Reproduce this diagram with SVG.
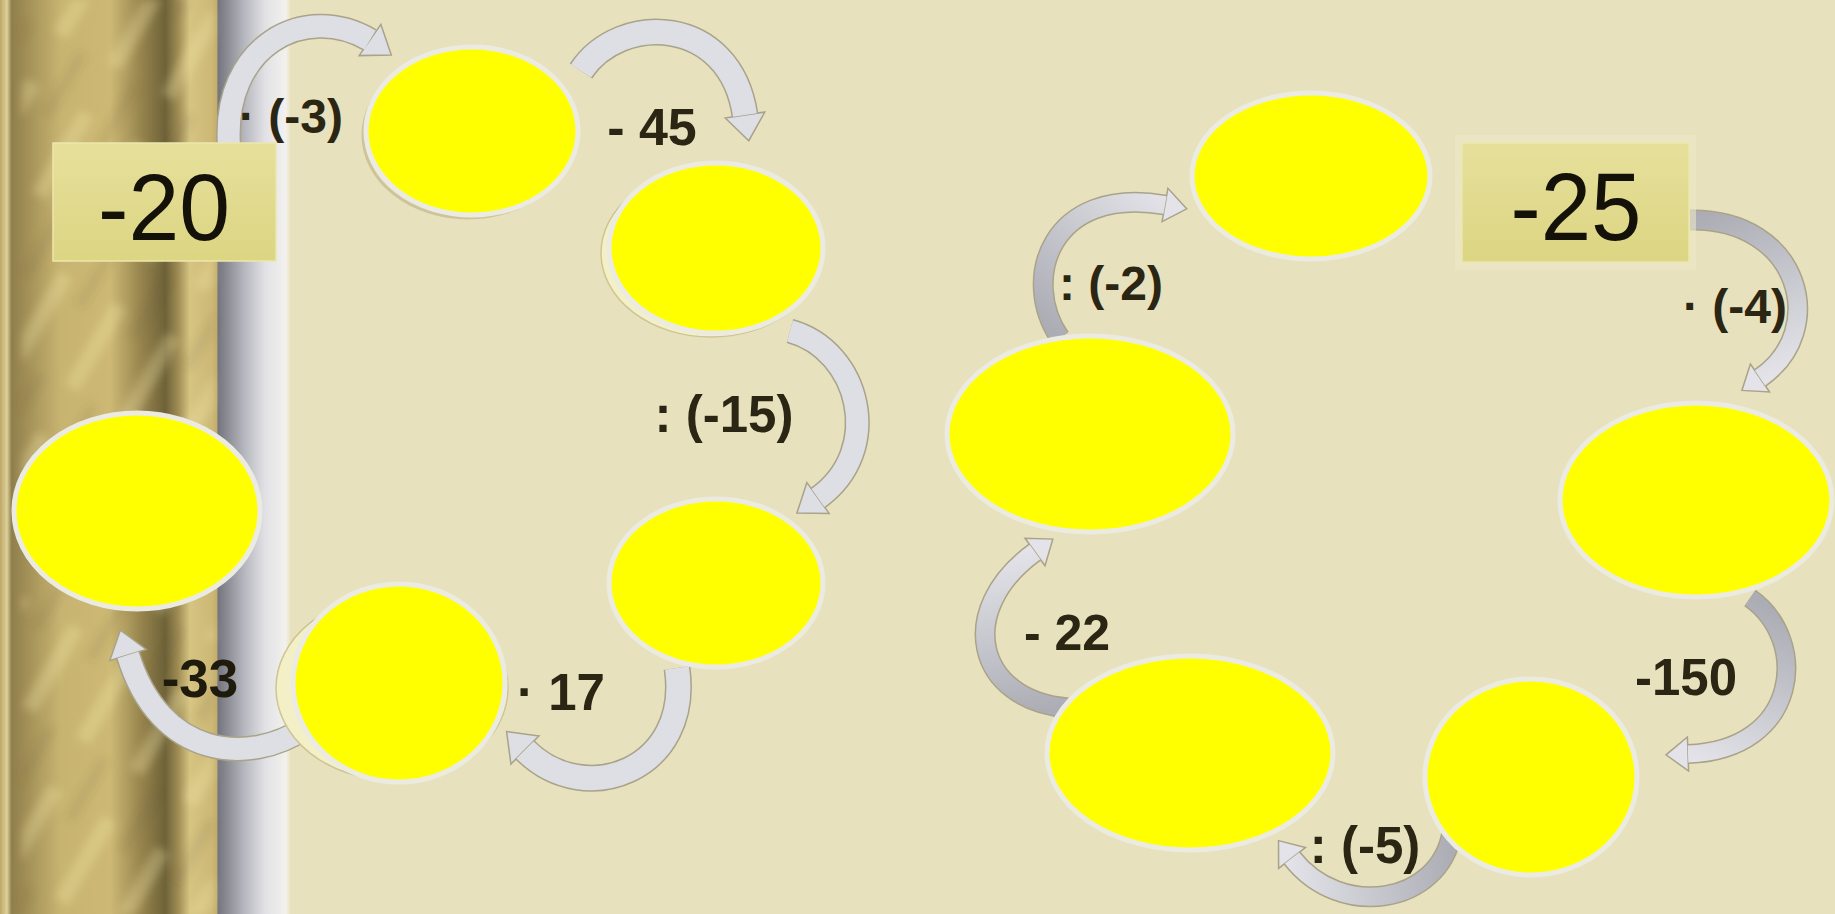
<svg xmlns="http://www.w3.org/2000/svg" width="1835" height="914" viewBox="0 0 1835 914">
<defs>
<style>
.lbl{font-family:"Liberation Sans",Arial,sans-serif;font-weight:bold;fill:#2a2613;text-anchor:middle}
.big{font-family:"Liberation Sans",Arial,sans-serif;fill:#141208;text-anchor:middle}
.node{fill:#ffff00;stroke:#ecebe2;stroke-width:5}
.ghost{fill:#f3efc6;stroke:#cfc592;stroke-width:1.5}
.shade{fill:none;stroke:#cdc49a;stroke-width:3}
.ao{fill:none;stroke:#a8a389}
.af{fill:none}
.ah{stroke:#a8a389;stroke-width:1.5;stroke-linejoin:miter}
.lf{stroke:#dedee5}
.box{stroke:#ebe7ad;stroke-width:1.5}
</style>
<linearGradient id="pillar" gradientUnits="userSpaceOnUse" x1="0" y1="0" x2="290" y2="0">
<stop offset="0" stop-color="#bfa866"/>
<stop offset="0.024" stop-color="#ddd09a"/>
<stop offset="0.04" stop-color="#8f7f4c"/>
<stop offset="0.11" stop-color="#a8955a"/>
<stop offset="0.21" stop-color="#c8b471"/>
<stop offset="0.38" stop-color="#cdb974"/>
<stop offset="0.48" stop-color="#9a874f"/>
<stop offset="0.57" stop-color="#6e6238"/>
<stop offset="0.615" stop-color="#a08d55"/>
<stop offset="0.655" stop-color="#d6c482"/>
<stop offset="0.73" stop-color="#cdb876"/>
<stop offset="0.747" stop-color="#c4ae6c"/>
<stop offset="0.752" stop-color="#74757e"/>
<stop offset="0.845" stop-color="#b8b8c0"/>
<stop offset="0.915" stop-color="#e2e2e6"/>
<stop offset="0.985" stop-color="#f2f1ee"/>
<stop offset="1" stop-color="#ebe5c6"/>
</linearGradient>
<pattern id="streak" patternUnits="userSpaceOnUse" width="150" height="62" patternTransform="rotate(-60)">
<rect x="0" y="0" width="95" height="16" fill="#f3e6a8" opacity="0.32"/>
<rect x="75" y="31" width="70" height="10" fill="#5a4e2a" opacity="0.12"/>
</pattern>
<filter id="soft" x="-5%" y="-5%" width="110%" height="110%"><feGaussianBlur stdDeviation="4"/></filter>
<linearGradient id="boxg" x1="0" y1="0" x2="0" y2="1">
<stop offset="0" stop-color="#e6e09c"/>
<stop offset="1" stop-color="#dcd582"/>
</linearGradient>
<linearGradient id="gB1" gradientUnits="userSpaceOnUse" x1="1690" y1="220" x2="1750" y2="385"><stop offset="0" stop-color="#acacb5"/><stop offset="1" stop-color="#e3e3e9"/></linearGradient>
<linearGradient id="gB2" gradientUnits="userSpaceOnUse" x1="1750" y1="598" x2="1680" y2="754"><stop offset="0" stop-color="#acacb5"/><stop offset="1" stop-color="#e3e3e9"/></linearGradient>
<linearGradient id="gB3" gradientUnits="userSpaceOnUse" x1="1452" y1="832" x2="1285" y2="850"><stop offset="0" stop-color="#acacb5"/><stop offset="1" stop-color="#e3e3e9"/></linearGradient>
<linearGradient id="gB4" gradientUnits="userSpaceOnUse" x1="1068" y1="708" x2="1040" y2="548"><stop offset="0" stop-color="#acacb5"/><stop offset="1" stop-color="#e3e3e9"/></linearGradient>
<linearGradient id="gB5" gradientUnits="userSpaceOnUse" x1="1060" y1="338" x2="1175" y2="205"><stop offset="0" stop-color="#acacb5"/><stop offset="1" stop-color="#e3e3e9"/></linearGradient>
</defs>

<g id="background">
<rect x="0" y="0" width="1835" height="914" fill="#e8e1bd"/>
<rect x="0" y="0" width="290" height="914" fill="url(#pillar)"/>
<rect x="22" y="0" width="192" height="914" fill="url(#streak)" filter="url(#soft)"/>
</g>

<g id="connectors">
<g id="a1">
<path class="ao" d="M229 146 C222 45 305 2 370 40" stroke-width="25"/>
<polygon class="ah" fill="#dedee5" points="380.9,24.4 391.3,54.9 359.1,55.6"/>
<path class="af lf" d="M229 146 C222 45 305 2 370 40" stroke-width="22"/>
</g>
<g id="a2">
<path class="ao" d="M581 71 C620 12 730 15 745 115" stroke-width="27"/>
<polygon class="ah" fill="#dedee5" points="725.2,118 748.8,140.7 764.8,112"/>
<path class="af lf" d="M581 71 C620 12 730 15 745 115" stroke-width="24"/>
</g>
<g id="a3">
<path class="ao" d="M790 331 C860 350 885 450 818 498" stroke-width="25"/>
<polygon class="ah" fill="#dedee5" points="806.9,482.6 796.9,513.1 829.1,513.4"/>
<path class="af lf" d="M790 331 C860 350 885 450 818 498" stroke-width="22"/>
</g>
<g id="a4">
<path class="ao" d="M677 668 C692 770 585 810 525 750" stroke-width="27"/>
<polygon class="ah" fill="#dedee5" points="539.1,735.9 506.6,731.6 510.9,764.1"/>
<path class="af lf" d="M677 668 C692 770 585 810 525 750" stroke-width="24"/>
</g>
<g id="a5">
<path class="ao" d="M305 728 C250 765 160 760 128 655" stroke-width="25"/>
<polygon class="ah" fill="#dedee5" points="146.2,649.5 120.4,630.1 109.8,660.5"/>
<path class="af lf" d="M305 728 C250 765 160 760 128 655" stroke-width="22"/>
</g>
<g id="b1">
<path class="ao" d="M1690 220 C1800 218 1830 330 1760 378" stroke-width="21"/>
<polygon class="ah" fill="#e3e3e9" points="1750.4,364 1741.9,390.4 1769.6,392"/>
<path class="af" d="M1690 220 C1800 218 1830 330 1760 378" stroke="url(#gB1)" stroke-width="18"/>
</g>
<g id="b2">
<path class="ao" d="M1750 598 C1810 640 1800 750 1688 754" stroke-width="20"/>
<polygon class="ah" fill="#e3e3e9" points="1687.4,737 1666,754.8 1688.6,771"/>
<path class="af" d="M1750 598 C1810 640 1800 750 1688 754" stroke="url(#gB2)" stroke-width="17"/>
</g>
<g id="b3">
<path class="ao" d="M1452 832 C1440 905 1340 920 1292 858" stroke-width="21"/>
<polygon class="ah" fill="#e3e3e9" points="1305.4,847.6 1278.5,840.6 1278.6,868.4"/>
<path class="af" d="M1452 832 C1440 905 1340 920 1292 858" stroke="url(#gB3)" stroke-width="18"/>
</g>
<g id="b4">
<path class="ao" d="M1068 708 C975 700 955 610 1035 552" stroke-width="21"/>
<polygon class="ah" fill="#e3e3e9" points="1045,565.8 1052.8,539.1 1025,538.2"/>
<path class="af" d="M1068 708 C975 700 955 610 1035 552" stroke="url(#gB4)" stroke-width="18"/>
</g>
<g id="b5">
<path class="ao" d="M1060 338 C1020 280 1050 185 1165 205" stroke-width="21"/>
<polygon class="ah" fill="#e3e3e9" points="1162.1,221.7 1186.7,208.8 1167.9,188.3"/>
<path class="af" d="M1060 338 C1020 280 1050 185 1165 205" stroke="url(#gB5)" stroke-width="18"/>
</g>
</g>

<g id="labels">
<text class="lbl" x="291" y="133" font-size="48">· (-3)</text>
<text class="lbl" x="652" y="145" font-size="52">- 45</text>
<text class="lbl" x="724" y="432" font-size="51">: (-15)</text>
<text class="lbl" x="561" y="710" font-size="51">· 17</text>
<text class="lbl" x="200" y="697" font-size="53" style="fill:#1e1a0c">-33</text>
<text class="lbl" x="1735" y="323" font-size="48">· (-4)</text>
<text class="lbl" x="1686" y="695" font-size="51">-150</text>
<text class="lbl" x="1365" y="863" font-size="51">: (-5)</text>
<text class="lbl" x="1067" y="650" font-size="50">- 22</text>
<text class="lbl" x="1111" y="300" font-size="48">: (-2)</text>
</g>

<g id="start-20">
<rect class="box" x="53" y="143" width="223" height="118" fill="url(#boxg)"/>
<text class="big" x="164" y="240" font-size="95" textLength="132" lengthAdjust="spacingAndGlyphs">-20</text>
</g>
<g id="start-25">
<rect x="1455" y="135" width="241" height="135" fill="#ede8c8" opacity="0.6"/>
<rect class="box" x="1462" y="143" width="227" height="119" fill="url(#boxg)"/>
<text class="big" x="1576" y="240" font-size="96" textLength="131" lengthAdjust="spacingAndGlyphs">-25</text>
</g>

<g id="e1"><ellipse class="shade" cx="468" cy="135" rx="105" ry="83"/><ellipse class="node" cx="472" cy="131" rx="106" ry="84"/></g>
<g id="e2"><ellipse class="ghost" cx="711" cy="253" rx="110" ry="84"/><ellipse class="node" cx="716" cy="248" rx="107" ry="85"/></g>
<g id="e3"><ellipse class="node" cx="716" cy="583" rx="107" ry="84"/></g>
<g id="e4"><ellipse class="ghost" cx="392" cy="688" rx="116" ry="92"/><ellipse class="node" cx="399" cy="683" rx="106" ry="99"/></g>
<g id="e5"><ellipse class="node" cx="137" cy="511" rx="123" ry="98"/></g>

<g id="r1"><ellipse class="node" cx="1311" cy="176" rx="119" ry="83"/></g>
<g id="r2"><ellipse class="node" cx="1696" cy="500" rx="136" ry="97"/></g>
<g id="r3"><ellipse class="node" cx="1531" cy="777" rx="106" ry="98"/></g>
<g id="r4"><ellipse class="node" cx="1190" cy="753" rx="143" ry="97"/></g>
<g id="r5"><ellipse class="node" cx="1090" cy="434" rx="143" ry="98"/></g>
</svg>
